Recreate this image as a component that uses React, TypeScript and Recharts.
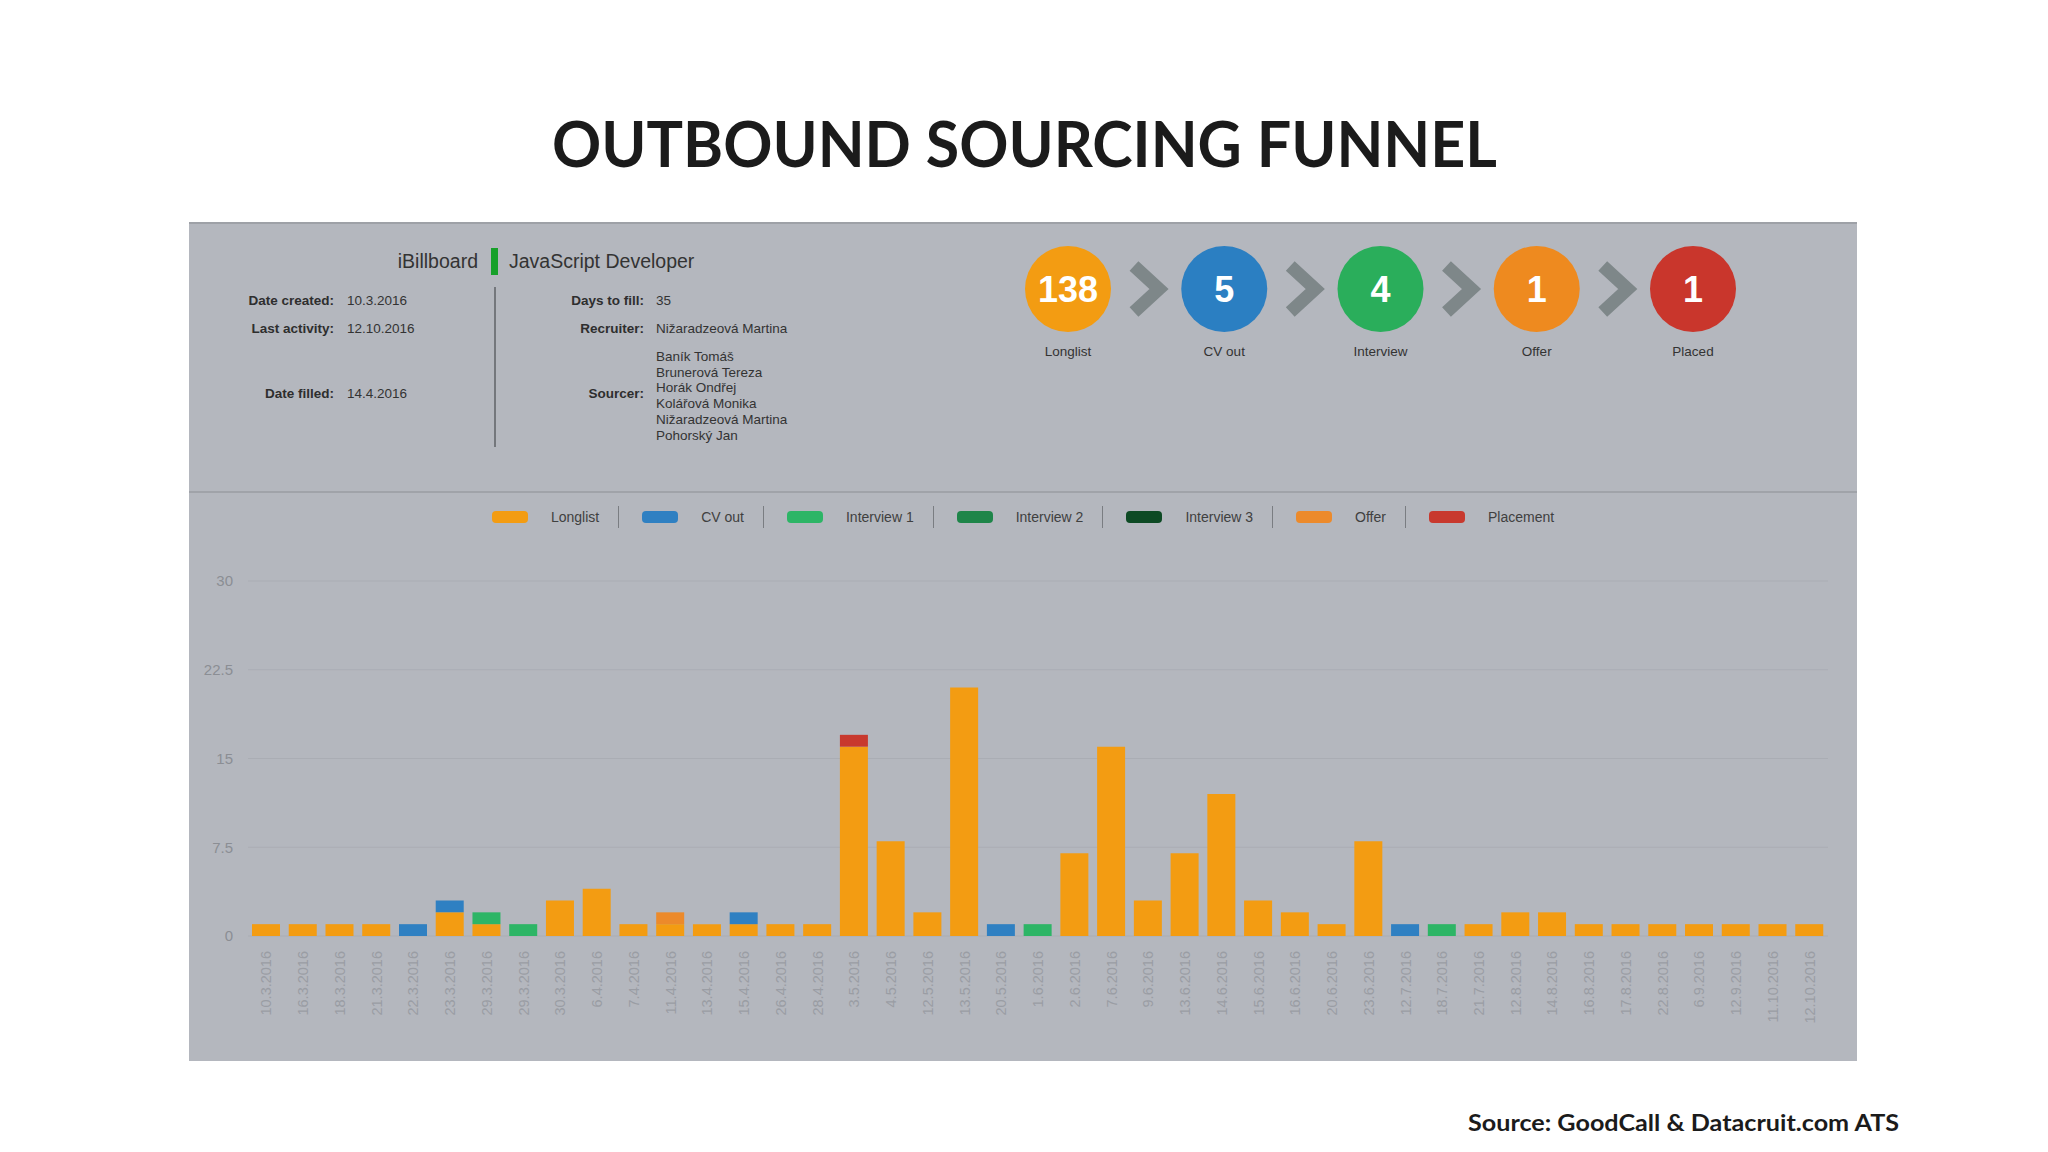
import React from 'react';
import { BarChart, Bar, XAxis, YAxis, CartesianGrid, Legend } from 'recharts';

const dates = [
  '10.3.2016', '16.3.2016', '18.3.2016', '21.3.2016', '22.3.2016', '23.3.2016', '29.3.2016', '29.3.2016',
  '30.3.2016', '6.4.2016', '7.4.2016', '11.4.2016', '13.4.2016', '15.4.2016', '26.4.2016', '28.4.2016',
  '3.5.2016', '4.5.2016', '12.5.2016', '13.5.2016', '20.5.2016', '1.6.2016', '2.6.2016', '7.6.2016',
  '9.6.2016', '13.6.2016', '14.6.2016', '15.6.2016', '16.6.2016', '20.6.2016', '23.6.2016', '12.7.2016',
  '18.7.2016', '21.7.2016', '12.8.2016', '14.8.2016', '16.8.2016', '17.8.2016', '22.8.2016', '6.9.2016',
  '12.9.2016', '11.10.2016', '12.10.2016',
];
const longlist = [1, 1, 1, 1, 0, 2, 1, 0, 3, 4, 1, 1, 1, 1, 1, 1, 16, 8, 2, 21, 0, 0, 7, 16, 3, 7, 12, 3, 2, 1, 8, 0, 0, 1, 2, 2, 1, 1, 1, 1, 1, 1, 1];
const cvOut = [0, 0, 0, 0, 1, 1, 0, 0, 0, 0, 0, 0, 0, 1, 0, 0, 0, 0, 0, 0, 1, 0, 0, 0, 0, 0, 0, 0, 0, 0, 0, 1, 0, 0, 0, 0, 0, 0, 0, 0, 0, 0, 0];
const interview1 = [0, 0, 0, 0, 0, 0, 1, 1, 0, 0, 0, 0, 0, 0, 0, 0, 0, 0, 0, 0, 0, 1, 0, 0, 0, 0, 0, 0, 0, 0, 0, 0, 1, 0, 0, 0, 0, 0, 0, 0, 0, 0, 0];
const interview2 = [0, 0, 0, 0, 0, 0, 0, 0, 0, 0, 0, 0, 0, 0, 0, 0, 0, 0, 0, 0, 0, 0, 0, 0, 0, 0, 0, 0, 0, 0, 0, 0, 0, 0, 0, 0, 0, 0, 0, 0, 0, 0, 0];
const interview3 = [0, 0, 0, 0, 0, 0, 0, 0, 0, 0, 0, 0, 0, 0, 0, 0, 0, 0, 0, 0, 0, 0, 0, 0, 0, 0, 0, 0, 0, 0, 0, 0, 0, 0, 0, 0, 0, 0, 0, 0, 0, 0, 0];
const offer = [0, 0, 0, 0, 0, 0, 0, 0, 0, 0, 0, 1, 0, 0, 0, 0, 0, 0, 0, 0, 0, 0, 0, 0, 0, 0, 0, 0, 0, 0, 0, 0, 0, 0, 0, 0, 0, 0, 0, 0, 0, 0, 0];
const placement = [0, 0, 0, 0, 0, 0, 0, 0, 0, 0, 0, 0, 0, 0, 0, 0, 1, 0, 0, 0, 0, 0, 0, 0, 0, 0, 0, 0, 0, 0, 0, 0, 0, 0, 0, 0, 0, 0, 0, 0, 0, 0, 0];
const yTicks = [0, 7.5, 15, 22.5, 30];

const seriesNames = ['Longlist', 'CV out', 'Interview 1', 'Interview 2', 'Interview 3', 'Offer', 'Placement'];
const seriesKeys = ['longlist', 'cvOut', 'interview1', 'interview2', 'interview3', 'offer', 'placement'];
const seriesColors = ['#f39c12', '#2f80c2', '#2db566', '#1e8549', '#0d4a24', '#ec8a2b', '#c8392e'];

const funnelLabels = ['Longlist', 'CV out', 'Interview', 'Offer', 'Placed'];
const funnelValues = [138, 5, 4, 1, 1];
const funnelColors = ['#f39c12', '#2b7fc2', '#2aae5b', '#ee8a1f', '#c9362c'];

const sourcers = ['Baník Tomáš', 'Brunerová Tereza', 'Horák Ondřej', 'Kolářová Monika', 'Nižaradzeová Martina', 'Pohorský Jan'];

const data = dates.map((d, i) => ({
  date: d,
  longlist: longlist[i],
  cvOut: cvOut[i],
  interview1: interview1[i],
  interview2: interview2[i],
  interview3: interview3[i],
  offer: offer[i],
  placement: placement[i],
}));

const FONT = '"Liberation Sans", Arial, sans-serif';

const XTick = (props: any) => {
  const { x, y, payload } = props;
  return (
    <g transform={`translate(${x},${y})`}>
      <text transform="rotate(-90)" x={0} y={0} dy="0.35em" textAnchor="end" fill="#9a9da4" fontSize={14.5} fontFamily={FONT}>
        {payload.value}
      </text>
    </g>
  );
};

const renderLegend = (props: any) => {
  const payload = [...(props.payload || [])].sort(
    (a: any, b: any) => seriesNames.indexOf(a.value) - seriesNames.indexOf(b.value)
  );
  return (
    <div style={{ display: 'flex', justifyContent: 'center', alignItems: 'center', height: 30, fontFamily: FONT, fontSize: 14, color: '#404040' }}>
      {payload.map((entry: any, i: number) => (
        <React.Fragment key={i}>
          {i > 0 && <div style={{ width: 1, height: 22, background: '#7a7d82', margin: '0 23px 0 19px' }} />}
          <div style={{ width: 36, height: 12, borderRadius: 4, background: entry.color, marginRight: 23 }} />
          <span>{entry.value}</span>
        </React.Fragment>
      ))}
    </div>
  );
};

const RightText = ({ x, y, children, bold }: any) => (
  <div style={{ position: 'absolute', left: x - 300, width: 300, top: y - 9, height: 18, lineHeight: '18px', textAlign: 'right', fontFamily: FONT, fontSize: 13.5, fontWeight: bold ? 700 : 400, color: '#2e2e2e', whiteSpace: 'nowrap' }}>
    {children}
  </div>
);
const LeftText = ({ x, y, children }: any) => (
  <div style={{ position: 'absolute', left: x, top: y - 9, height: 18, lineHeight: '18px', fontFamily: FONT, fontSize: 13.5, color: '#333', whiteSpace: 'nowrap' }}>
    {children}
  </div>
);

export default function App() {
  return (
    <div style={{ position: 'absolute', left: 0, top: 0, width: 2048, height: 1152, background: '#ffffff', overflow: 'hidden' }}>
      <svg width={2048} height={1152} style={{ position: 'absolute', left: 0, top: 0 }}>
        <text x={1024.5} y={167} textAnchor="middle" fontFamily="Lato, sans-serif" fontWeight={700} fontSize={64} fill="#1b1b1b" textLength={945} lengthAdjust="spacingAndGlyphs">
          OUTBOUND SOURCING FUNNEL
        </text>
        <text x={1899} y={1131} textAnchor="end" fontFamily="Lato, sans-serif" fontWeight={700} fontSize={23} fill="#1b1b1b" textLength={431} lengthAdjust="spacingAndGlyphs">
          Source: GoodCall &amp; Datacruit.com ATS
        </text>
      </svg>

      <div style={{ position: 'absolute', left: 189, top: 222, width: 1668, height: 839, background: '#b4b7be', borderTop: '2px solid #9ea1a7', boxSizing: 'border-box' }} />
      <div style={{ position: 'absolute', left: 189, top: 491, width: 1668, height: 2, background: '#a0a3a9' }} />

      {/* header */}
      <RightText x={478} y={261}><span style={{ fontSize: 19.5, fontWeight: 400, color: '#333' }}>iBillboard</span></RightText>
      <div style={{ position: 'absolute', left: 491, top: 248, width: 7, height: 27, background: '#17a02a' }} />
      <div style={{ position: 'absolute', left: 509, top: 250, height: 22, lineHeight: '22px', fontFamily: FONT, fontSize: 19.5, color: '#333', whiteSpace: 'nowrap' }}>JavaScript Developer</div>
      <div style={{ position: 'absolute', left: 494, top: 287, width: 1.5, height: 160, background: '#74777c' }} />

      <RightText x={334} y={301} bold>Date created:</RightText>
      <LeftText x={347} y={301}>10.3.2016</LeftText>
      <RightText x={334} y={329} bold>Last activity:</RightText>
      <LeftText x={347} y={329}>12.10.2016</LeftText>
      <RightText x={334} y={394} bold>Date filled:</RightText>
      <LeftText x={347} y={394}>14.4.2016</LeftText>

      <RightText x={644} y={301} bold>Days to fill:</RightText>
      <LeftText x={656} y={301}>35</LeftText>
      <RightText x={644} y={329} bold>Recruiter:</RightText>
      <LeftText x={656} y={329}>Nižaradzeová Martina</LeftText>
      <RightText x={644} y={394} bold>Sourcer:</RightText>
      <div style={{ position: 'absolute', left: 656, top: 349, fontFamily: FONT, fontSize: 13.5, lineHeight: '15.7px', color: '#333', whiteSpace: 'nowrap' }}>
        {sourcers.map((s) => (
          <div key={s}>{s}</div>
        ))}
      </div>

      {/* funnel */}
      <svg width={760} height={140} style={{ position: 'absolute', left: 1010, top: 240 }}>
        {funnelValues.map((v, i) => {
          const cx = 58 + i * 156.25;
          return (
            <g key={i}>
              <circle cx={cx} cy={49} r={43} fill={funnelColors[i]} />
              <text x={cx} y={49} dy="0.36em" textAnchor="middle" fill="#ffffff" fontFamily={FONT} fontWeight={700} fontSize={36}>{v}</text>
              <text x={cx} y={111} dy="0.36em" textAnchor="middle" fill="#333" fontFamily={FONT} fontSize={13.5}>{funnelLabels[i]}</text>
              {i < funnelValues.length - 1 && (
                <polyline points={`${cx + 66},${26} ${cx + 91},${49} ${cx + 66},${72}`} fill="none" stroke="#7e8789" strokeWidth={13} strokeLinejoin="miter" />
              )}
            </g>
          );
        })}
      </svg>

      <div style={{ position: 'absolute', left: 189, top: 492 }}>
        <BarChart width={1668} height={569} data={data} margin={{ top: 89, right: 29, bottom: 0, left: 0 }} barSize={28}>
          <CartesianGrid vertical={false} stroke="#aaadb4" strokeWidth={1} />
          <XAxis dataKey="date" interval={0} axisLine={false} tickLine={false} tickSize={0} tickMargin={15} height={125} tick={<XTick />} />
          <YAxis width={59} domain={[0, 30]} ticks={yTicks} axisLine={false} tickLine={false} tickSize={0} tickMargin={15} tick={{ fill: '#8b8e94', fontSize: 15, fontFamily: FONT }} />
          <Legend verticalAlign="middle" align="center" wrapperStyle={{ top: 10, left: 0, width: 1668, height: 30 }} content={renderLegend} />
          {seriesKeys.map((k, i) => (
            <Bar key={k} dataKey={k} name={seriesNames[i]} stackId="a" fill={seriesColors[i]} isAnimationActive={false} />
          ))}
        </BarChart>
      </div>
    </div>
  );
}
